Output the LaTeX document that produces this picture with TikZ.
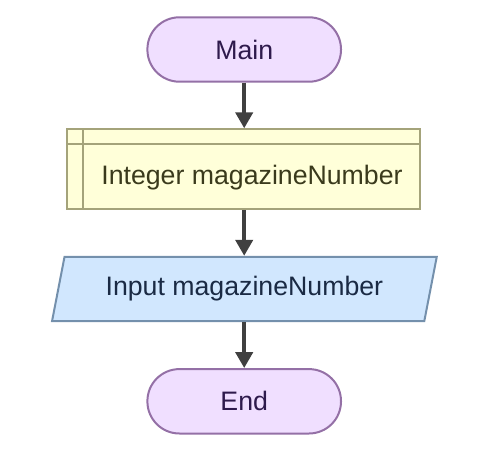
\documentclass[tikz,border=0pt]{standalone}
\usepackage{fontspec}
\setmainfont{Liberation Sans}
\usetikzlibrary{shapes.geometric,arrows.meta}

\definecolor{termfill}{HTML}{F0DFFF}
\definecolor{termline}{HTML}{9470A6}
\definecolor{termtext}{HTML}{2E1A4C}
\definecolor{declfill}{HTML}{FFFFD9}
\definecolor{declline}{HTML}{A4A37A}
\definecolor{decltext}{HTML}{3A3A1C}
\definecolor{iofill}{HTML}{D1E7FE}
\definecolor{ioline}{HTML}{7490AC}
\definecolor{iotext}{HTML}{1A2A44}
\definecolor{flow}{HTML}{404040}

\begin{document}
\begin{tikzpicture}[x=1pt,y=-1pt,
  every node/.style={font=\fontsize{26.7}{32}\selectfont, inner sep=0pt},
  term/.style={rectangle, rounded corners=32pt, draw=termline, fill=termfill,
    line width=2pt, text=termtext, minimum width=193.6pt, minimum height=64.4pt},
  declbox/.style={rectangle, draw=declline, fill=declfill, line width=2pt,
    minimum width=352.7pt, minimum height=79.7pt},
  iobox/.style={trapezium, trapezium left angle=63.4, trapezium right angle=116.6,
    trapezium stretches body, draw=ioline, fill=iofill, line width=2pt, text=iotext,
    minimum width=384.7pt, minimum height=64.3pt},
  flowline/.style={draw=flow, line width=4pt, -{Triangle[length=16pt,width=17pt]}}]
\useasboundingbox (0,0) rectangle (487,470);

\node[term] (main) at (244.2,49.5) {Main};
\node[declbox] (decl) at (243.7,169.2) {};
\node[text=decltext] (decltxt) at ([shift={(8.3pt,-8pt)}]decl.center) {Integer magazineNumber};
\node[iobox] (input) at (244.4,289) {Input magazineNumber};
\node[term] (end) at (244.2,401.3) {End};

% inner lines of the declare box
\draw[declline, line width=2pt] ([yshift=-15.7pt]decl.north west) -- ([yshift=-15.7pt]decl.north east);
\draw[declline, line width=2pt] ([xshift=17pt]decl.north west) -- ([xshift=17pt]decl.south west);

\draw[flowline] (main) -- (main |- decl.north);
\draw[flowline] (main |- decl.south) -- (main |- input.north);
\draw[flowline] (main |- input.south) -- (end);

\end{tikzpicture}
\end{document}
